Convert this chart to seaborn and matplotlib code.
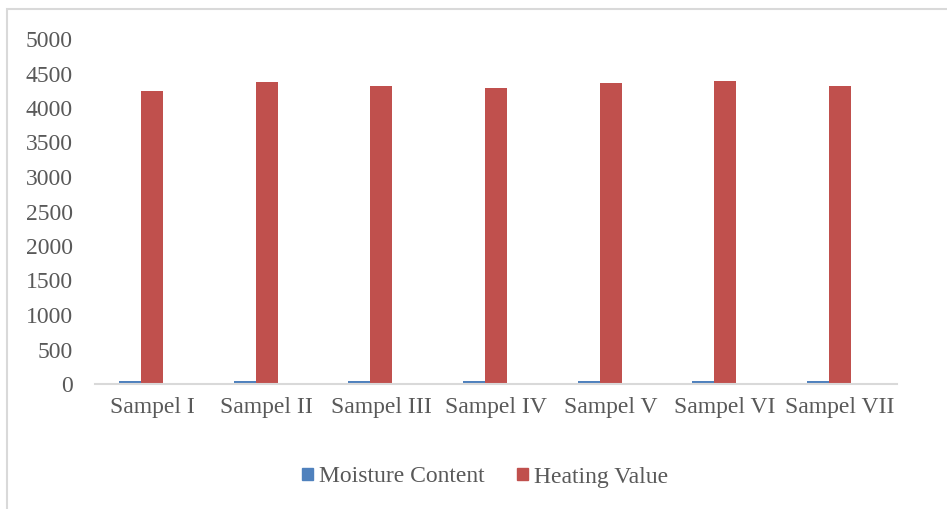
import matplotlib
matplotlib.use("Agg")
import matplotlib.pyplot as plt
import matplotlib.patches as mpatches
import seaborn as sns
import pandas as pd

samples = ["Sampel I", "Sampel II", "Sampel III", "Sampel IV",
           "Sampel V", "Sampel VI", "Sampel VII"]
moisture_content = [45, 42, 40, 45, 42, 44, 42]
heating_value = [4250, 4370, 4320, 4285, 4360, 4390, 4325]
y_ticks = [0, 500, 1000, 1500, 2000, 2500, 3000, 3500, 4000, 4500, 5000]

series_names = ["Moisture Content", "Heating Value"]
colors = {"Moisture Content": "#4F81BD", "Heating Value": "#C0504D", " ": "#9BBB59"}

df = pd.DataFrame({
    "Sample": samples * 2,
    "Series": [series_names[0]] * len(samples) + [series_names[1]] * len(samples),
    "Value": moisture_content + heating_value,
})

sns.set_theme(style="white")
plt.rcParams["font.family"] = ["Liberation Serif", "DejaVu Serif"]

fig = plt.figure(figsize=(9.47, 5.09), dpi=100)
ax = fig.add_axes([95 / 947, 1 - 384 / 509, (897 - 95) / 947, (384 - 39) / 509])

# third (empty) slot in each cluster keeps the column layout of the original workbook
sns.barplot(data=df, x="Sample", y="Value", hue="Series",
            hue_order=series_names + [" "], order=samples,
            palette=colors, width=0.576, gap=0, saturation=1,
            errorbar=None, legend=False, ax=ax, linewidth=0)

ax.set_ylim(0, 5000)
ax.set_yticks(y_ticks)
ax.set_yticklabels([str(t) for t in y_ticks])
ax.set_xlim(-0.5, len(samples) - 0.5)
ax.set_xlabel("")
ax.set_ylabel("")
for side in ["top", "right", "left"]:
    ax.spines[side].set_visible(False)
ax.spines["bottom"].set_color("#D9D9D9")
ax.spines["bottom"].set_linewidth(1.5)
ax.tick_params(axis="both", length=0, labelsize=17, colors="#595959")
ax.tick_params(axis="y", pad=16)
ax.tick_params(axis="x", pad=9)

handles = [mpatches.Patch(color=colors[n], label=n) for n in series_names]
fig.legend(handles=handles, loc="center", bbox_to_anchor=(485 / 947, 1 - 477 / 509),
           ncol=2, frameon=False, fontsize=17, labelcolor="#595959",
           handlelength=0.45, handleheight=0.45, handletextpad=0.25, columnspacing=1.4)

# light frame around the chart area
fig.patches.append(mpatches.Rectangle((7 / 947, -0.01), 1.0, 1 - 9 / 509 + 0.01,
                                      transform=fig.transFigure, fill=False,
                                      edgecolor="#D9D9D9", linewidth=1.5))

fig.savefig("out.png", dpi=100, facecolor="white")
